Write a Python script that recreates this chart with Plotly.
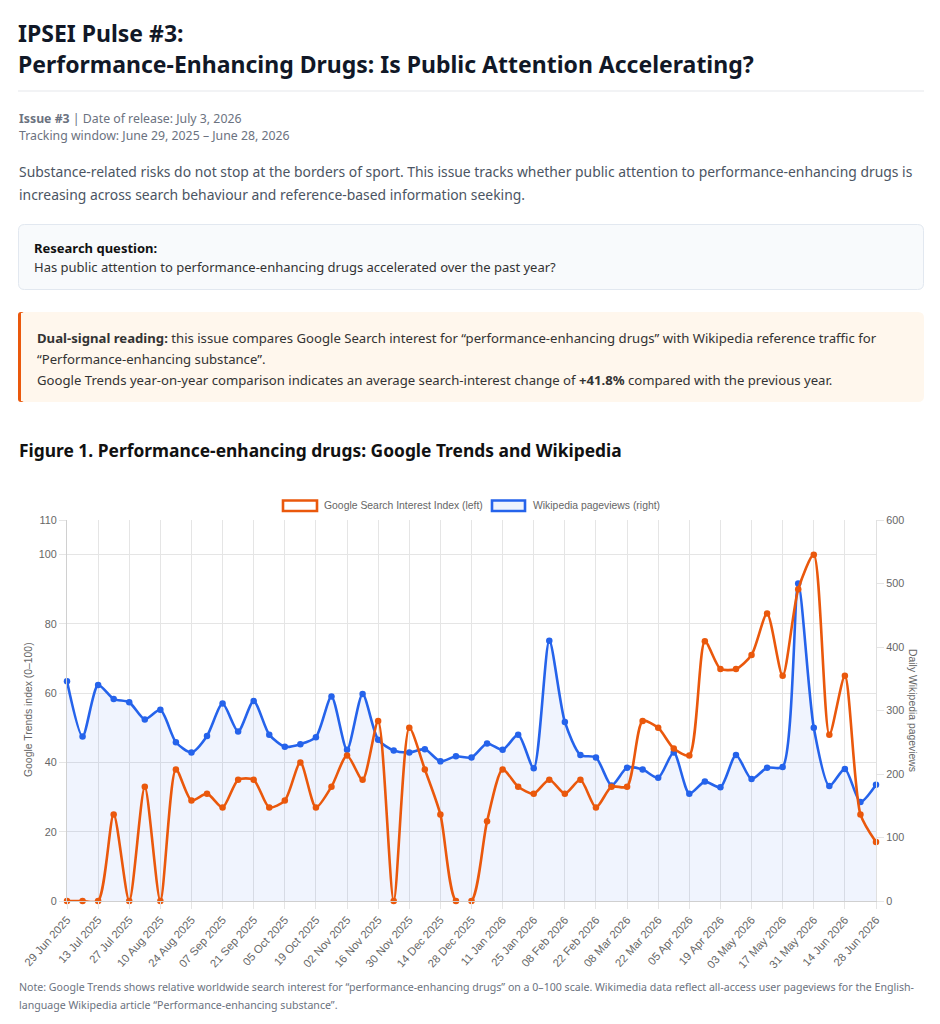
import plotly.graph_objects as go

W, H = 940, 1024

# ---------------- data ----------------
weeks = [
    "29 Jun 2025", "06 Jul 2025", "13 Jul 2025", "20 Jul 2025", "27 Jul 2025", "03 Aug 2025",
    "10 Aug 2025", "17 Aug 2025", "24 Aug 2025", "31 Aug 2025", "07 Sep 2025", "14 Sep 2025",
    "21 Sep 2025", "28 Sep 2025", "05 Oct 2025", "12 Oct 2025", "19 Oct 2025", "26 Oct 2025",
    "02 Nov 2025", "09 Nov 2025", "16 Nov 2025", "23 Nov 2025", "30 Nov 2025", "07 Dec 2025",
    "14 Dec 2025", "21 Dec 2025", "28 Dec 2025", "04 Jan 2026", "11 Jan 2026", "18 Jan 2026",
    "25 Jan 2026", "01 Feb 2026", "08 Feb 2026", "15 Feb 2026", "22 Feb 2026", "01 Mar 2026",
    "08 Mar 2026", "15 Mar 2026", "22 Mar 2026", "29 Mar 2026", "05 Apr 2026", "12 Apr 2026",
    "19 Apr 2026", "26 Apr 2026", "03 May 2026", "10 May 2026", "17 May 2026", "24 May 2026",
    "31 May 2026", "07 Jun 2026", "14 Jun 2026", "21 Jun 2026", "28 Jun 2026",
]

google_interest = [
    0, 0, 0, 25, 0, 33, 0, 38, 29, 31, 27, 35, 35, 27, 29, 40, 27, 33,
    42, 35, 52, 0, 50, 38, 25, 0, 0, 23, 38, 33, 31, 35, 31, 35, 27, 33,
    33, 52, 50, 44, 42, 75, 67, 67, 71, 83, 65, 90, 100, 48, 65, 25, 17,
]

wiki_pageviews = [
    346, 259, 340, 318, 313, 286, 301, 250, 234, 260, 311, 267, 315, 262, 243, 247, 258, 322,
    238, 326, 254, 237, 234, 239, 220, 228, 226, 248, 238, 262, 209, 410, 282, 230, 226, 182,
    210, 207, 194, 234, 169, 188, 179, 230, 192, 210, 211, 500, 273, 181, 208, 156, 183,
]

left_ticks = [0, 20, 40, 60, 80, 100, 110]
right_ticks = [0, 100, 200, 300, 400, 500, 600]

ORANGE = "#ea580c"
BLUE = "#2563eb"
BODY_FONT = "Noto Sans"
CHART_FONT = "Liberation Sans"
CF = 10.4  # chart font size


def px(x):
    return x / W


def py(y):
    return 1 - y / H


# plot area in pixels
PL, PR, PT, PB = 67, 876, 520, 901

fig = go.Figure()

# Wikipedia (right axis) -> drawn on primary y (placed right)
fig.add_trace(go.Scatter(
    x=list(range(len(weeks))), y=wiki_pageviews, yaxis="y",
    mode="lines+markers", name="Wikipedia pageviews (right)",
    line=dict(color=BLUE, width=2.6, shape="spline", smoothing=0.7),
    marker=dict(color=BLUE, size=6.5),
    fill="tozeroy", fillcolor="rgba(37,99,235,0.07)",
    cliponaxis=False, hoverinfo="skip", showlegend=False,
))
# Google (left axis) -> on y2 overlaying so it is on top
fig.add_trace(go.Scatter(
    x=list(range(len(weeks))), y=google_interest, yaxis="y2",
    mode="lines+markers", name="Google Search Interest Index (left)",
    line=dict(color=ORANGE, width=2.6, shape="spline", smoothing=0.7),
    marker=dict(color=ORANGE, size=6.5),
    cliponaxis=False, hoverinfo="skip", showlegend=False,
))

tick_idx = list(range(0, len(weeks), 2))

fig.update_layout(
    width=W, height=H,
    margin=dict(l=0, r=0, t=0, b=0),
    paper_bgcolor="white", plot_bgcolor="white",
    showlegend=False,
    xaxis=dict(
        domain=[px(PL), px(PR)], range=[0, len(weeks) - 1],
        tickmode="array", tickvals=tick_idx, ticktext=[weeks[i] for i in tick_idx],
        tickangle=-48, tickfont=dict(family=CHART_FONT, size=11.3, color="#666"),
        showgrid=True, gridcolor="#e5e5e5", gridwidth=1,
        ticks="outside", ticklen=7, tickcolor="#e5e5e5",
        showline=True, linecolor="#d0d0d0", zeroline=False, automargin=False,
    ),
    yaxis=dict(
        domain=[py(PB), py(PT)], range=[0, 600], side="right",
        tickmode="array", tickvals=right_ticks,
        tickfont=dict(family=CHART_FONT, size=10.8, color="#666"),
        showgrid=False, ticks="outside", ticklen=7, tickcolor="#e5e5e5",
        showline=True, linecolor="#e0e0e0", zeroline=False, automargin=False,
    ),
    yaxis2=dict(
        domain=[py(PB), py(PT)], range=[0, 110], side="left", overlaying="y",
        tickmode="array", tickvals=left_ticks,
        tickfont=dict(family=CHART_FONT, size=10.8, color="#666"),
        showgrid=True, gridcolor="#e5e5e5", gridwidth=1,
        ticks="outside", ticklen=7, tickcolor="#e5e5e5",
        showline=True, linecolor="#d0d0d0", zeroline=False, automargin=False,
    ),
)


def rounded_rect(x0, y0, x1, y1, r):
    X0, X1 = px(x0), px(x1)
    Y0, Y1 = py(y0), py(y1)
    rx, ry = r / W, r / H
    return (f"M {X0+rx},{Y0} L {X1-rx},{Y0} Q {X1},{Y0} {X1},{Y0-ry} "
            f"L {X1},{Y1+ry} Q {X1},{Y1} {X1-rx},{Y1} L {X0+rx},{Y1} "
            f"Q {X0},{Y1} {X0},{Y1+ry} L {X0},{Y0-ry} Q {X0},{Y0} {X0+rx},{Y0} Z")


shapes = [
    # header divider
    dict(type="line", xref="paper", yref="paper", x0=px(18), x1=px(924), y0=py(91), y1=py(91),
         line=dict(color="#e5e7eb", width=1)),
    # research question box
    dict(type="path", xref="paper", yref="paper", path=rounded_rect(18.5, 224.5, 923.5, 289.5, 6),
         fillcolor="#f8fafc", line=dict(color="#e2e8f0", width=1)),
    # dual signal box
    dict(type="path", xref="paper", yref="paper", path=rounded_rect(18, 312, 924, 402, 6),
         fillcolor="#fff7ed", line=dict(width=0)),
    dict(type="path", xref="paper", yref="paper", path=rounded_rect(18, 312, 24, 402, 3),
         fillcolor=ORANGE, line=dict(width=0)),
    dict(type="rect", xref="paper", yref="paper", x0=px(21), x1=px(26), y0=py(313), y1=py(401),
         fillcolor="#fff7ed", line=dict(width=0)),
    # legend boxes
    dict(type="rect", xref="paper", yref="paper", x0=px(283), x1=px(317), y0=py(500.5), y1=py(511),
         fillcolor="white", line=dict(color=ORANGE, width=2.6)),
    dict(type="rect", xref="paper", yref="paper", x0=px(492), x1=px(525), y0=py(500.5), y1=py(511),
         fillcolor="#eef3fd", line=dict(color=BLUE, width=2.6)),
]
fig.update_layout(shapes=shapes)


def text(x, y, s, size, color, family=BODY_FONT, **kw):
    d = dict(xref="paper", yref="paper", x=px(x), y=py(y), text=s, showarrow=False,
             xanchor="left", yanchor="middle", font=dict(family=family, size=size, color=color))
    d.update(kw)
    return d


ann = [
    text(16, 33, "<b>IPSEI Pulse #3:</b>", 23, "#111827"),
    text(16, 64, "<b>Performance-Enhancing Drugs: Is Public Attention Accelerating?</b>", 23, "#111827"),
    text(17, 118, "<b>Issue #3</b> | Date of release: July 3, 2026", 12.3, "#6b7280"),
    text(17, 135, "Tracking window: June 29, 2025 – June 28, 2026", 12.3, "#6b7280"),
    text(17, 171, "Substance-related risks do not stop at the borders of sport. This issue tracks whether public attention to performance-enhancing drugs is", 13.9, "#4b5563"),
    text(17, 194, "increasing across search behaviour and reference-based information seeking.", 13.9, "#4b5563"),
    text(32, 248, "<b>Research question:</b>", 13, "#111111"),
    text(32, 267, "Has public attention to performance-enhancing drugs accelerated over the past year?", 13, "#333333"),
    text(35, 338, "<b>Dual-signal reading:</b> this issue compares Google Search interest for “performance-enhancing drugs” with Wikipedia reference traffic for", 13.15, "#333333"),
    text(35, 359, "“Performance-enhancing substance”.", 13.15, "#333333"),
    text(35, 380, "Google Trends year-on-year comparison indicates an average search-interest change of <b>+41.8%</b> compared with the previous year.", 13.15, "#333333"),
    text(17, 450, "<b>Figure 1. Performance-enhancing drugs: Google Trends and Wikipedia</b>", 17.4, "#111111"),
    # legend labels
    text(322, 505.5, "Google Search Interest Index (left)", CF, "#666", family=CHART_FONT),
    text(531, 505.5, "Wikipedia pageviews (right)", CF, "#666", family=CHART_FONT),
    # axis titles
    dict(xref="paper", yref="paper", x=px(28), y=py(710), text="Google Trends index (0–100)",
         showarrow=False, textangle=-90, xanchor="center", yanchor="middle",
         font=dict(family=CHART_FONT, size=CF, color="#666")),
    dict(xref="paper", yref="paper", x=px(913), y=py(710), text="Daily Wikipedia pageviews",
         showarrow=False, textangle=90, xanchor="center", yanchor="middle",
         font=dict(family=CHART_FONT, size=CF, color="#666")),
    # note
    text(17, 987, "Note: Google Trends shows relative worldwide search interest for “performance-enhancing drugs” on a 0–100 scale. Wikimedia data reflect all-access user pageviews for the English-", 10.6, "#6b7280"),
    text(17, 1005, "language Wikipedia article “Performance-enhancing substance”.", 10.6, "#6b7280"),
]
fig.update_layout(annotations=ann)

fig.write_html("out.html")
